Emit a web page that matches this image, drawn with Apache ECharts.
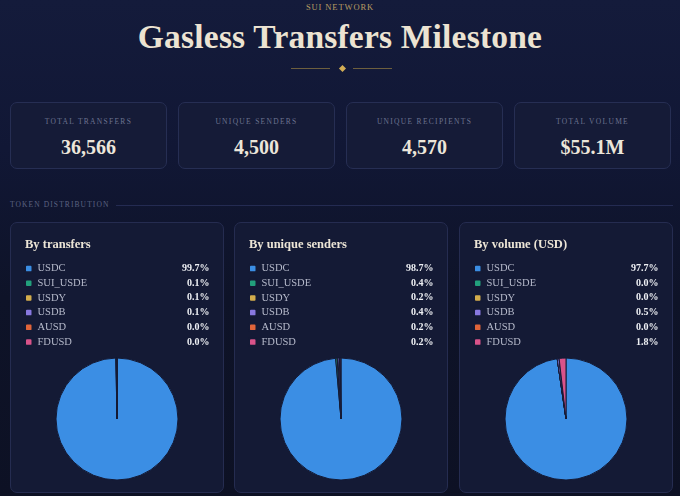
<!DOCTYPE html>
<html>
<head>
<meta charset="utf-8">
<script src="https://cdn.jsdelivr.net/npm/echarts@6/dist/echarts.min.js"></script>
<style>
  html, body { margin: 0; padding: 0; }
  body {
    width: 680px; height: 496px; overflow: hidden; position: relative;
    background: linear-gradient(180deg, #141b3b 0%, #111735 30%, #0e1328 60%, #0d1124 100%);
    font-family: "Liberation Serif", "DejaVu Serif", serif;
  }
  .eyebrow {
    position: absolute; left: 0; width: 680px; top: 2px; text-align: center;
    font-size: 8.5px; letter-spacing: 0.9px; color: #b79b62;
  }
  .title {
    position: absolute; left: 0; width: 680px; top: 18px; text-align: center;
    font-size: 33.5px; font-weight: bold; color: #ece3d2; letter-spacing: 0.2px;
  }
  .divider { position: absolute; top: 68px; height: 1px; background: #6d5f3e; }
  .diamond {
    position: absolute; left: 339.5px; top: 65.5px; width: 5px; height: 5px;
    background: #d2ad55; transform: rotate(45deg);
  }
  .kpi {
    position: absolute; top: 102px; width: 157px; height: 67px; box-sizing: border-box;
    border: 1px solid #262e53; border-radius: 7px; background: #151b37; text-align: center;
  }
  .kpi .lab {
    position: absolute; left: 0; right: 0; top: 14px;
    font-size: 7.5px; letter-spacing: 1.3px; color: #6c7390;
  }
  .kpi .val {
    position: absolute; left: 0; right: 0; top: 33px;
    font-size: 20px; font-weight: bold; color: #ece6da;
  }
  .section {
    position: absolute; left: 10px; top: 200px; font-size: 7.5px;
    letter-spacing: 1.1px; color: #5c6382;
  }
  .section-line { position: absolute; left: 116px; right: 7px; top: 205px; height: 1px; background: #242b52; }
  .card {
    position: absolute; top: 222px; width: 214px; height: 271px; box-sizing: border-box;
    border: 1px solid #252c50; border-radius: 7px; background: #141a35;
  }
  .card .head {
    position: absolute; left: 14px; top: 14px; font-size: 12.5px; font-weight: bold;
    color: #ece5d6; z-index: 2;
  }
  .card .chart { position: absolute; left: 0; top: 0; width: 212px; height: 269px; }
</style>
</head>
<body>
<div class="eyebrow">SUI NETWORK</div>
<div class="title">Gasless Transfers Milestone</div>
<div class="divider" style="left:291px;width:39px"></div>
<div class="divider" style="left:353px;width:39px"></div>
<div class="diamond"></div>
<div id="kpis"></div>
<div class="section">TOKEN DISTRIBUTION</div>
<div class="section-line"></div>
<div id="cards"></div>

<script>
// 数据
var tokens = ['USDC', 'SUI_USDE', 'USDY', 'USDB', 'AUSD', 'FDUSD'];
var tokenColors = ['#3b8ee4', '#22a07c', '#d3ad4c', '#8878e0', '#e0643a', '#d9538a'];

var byTransfers = [99.7, 0.1, 0.1, 0.1, 0.0, 0.0];
var bySenders = [98.7, 0.4, 0.2, 0.4, 0.2, 0.2];
var byVolume = [97.7, 0.0, 0.0, 0.5, 0.0, 1.8];

var kpiLabels = ['TOTAL TRANSFERS', 'UNIQUE SENDERS', 'UNIQUE RECIPIENTS', 'TOTAL VOLUME'];
var kpiValues = ['36,566', '4,500', '4,570', '$55.1M'];

var cardTitles = ['By transfers', 'By unique senders', 'By volume (USD)'];
var cardData = [byTransfers, bySenders, byVolume];

// KPI 卡片
var kpiLeft = [10, 178, 346, 514];
for (var i = 0; i < kpiLabels.length; i++) {
    var html = "<div class='kpi' style='left:" + kpiLeft[i] + "px'>" +
                    "<div class='lab'>" + kpiLabels[i] + "</div>" +
                    "<div class='val'>" + kpiValues[i] + "</div>" +
               "</div>";
    document.getElementById('kpis').insertAdjacentHTML('beforeend', html);
}

// 饼图卡片
var cardLeft = [10, 234, 459];
for (var i = 0; i < cardTitles.length; i++) {
    var html = "<div class='card' style='left:" + cardLeft[i] + "px'>" +
                    "<div class='head'>" + cardTitles[i] + "</div>" +
                    "<div class='chart' id='pie" + i + "'></div>" +
               "</div>";
    document.getElementById('cards').insertAdjacentHTML('beforeend', html);
}

function LoadPie(idx, values) {
    var chart = echarts.init(document.getElementById('pie' + idx), null, { renderer: 'canvas' });
    var data = [];
    for (var k = 0; k < tokens.length; k++) {
        data.push({ name: tokens[k], value: values[k], itemStyle: { color: tokenColors[k] } });
    }
    var option = {
        animation: false,
        legend: {
            orient: 'vertical',
            left: 8,
            top: 35,
            itemWidth: 7.5,
            itemHeight: 7.5,
            itemGap: 3.7,
            icon: 'roundRect',
            selectedMode: false,
            data: tokens,
            formatter: function (name) {
                var v = values[tokens.indexOf(name)];
                return '{n|' + name + '}{v|' + v.toFixed(1) + '%}';
            },
            textStyle: {
                rich: {
                    n: { width: 138, fontSize: 10.5, lineHeight: 11.5, color: '#b6bacb', fontFamily: 'Liberation Serif' },
                    v: { width: 34, align: 'right', fontSize: 10, lineHeight: 11.5, fontWeight: 'bold', color: '#eef0f4', fontFamily: 'Liberation Serif' }
                }
            }
        },
        series: [
            {
                type: 'pie',
                center: [106, 196],
                radius: [0, 61],
                startAngle: 90,
                label: { show: false },
                labelLine: { show: false },
                emphasis: { disabled: true },
                itemStyle: { borderColor: '#141a35', borderWidth: 1 },
                data: data
            }
        ]
    };
    chart.setOption(option);
}

for (var i = 0; i < cardData.length; i++) {
    LoadPie(i, cardData[i]);
}
</script>
</body>
</html>
